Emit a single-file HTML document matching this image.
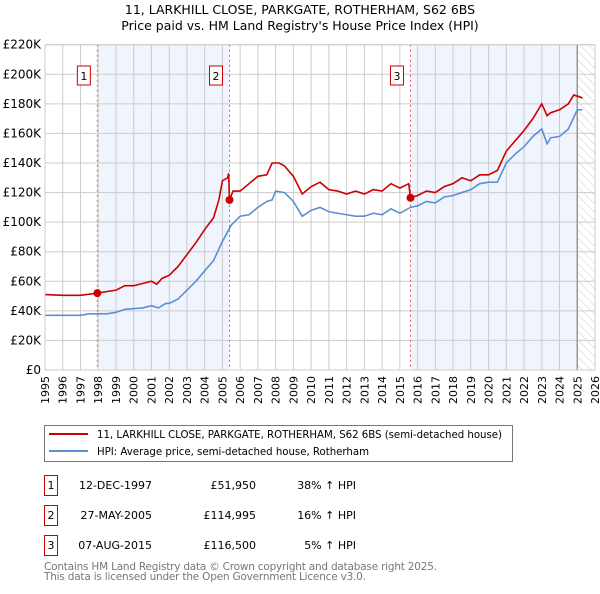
<!DOCTYPE html>
<html><head><meta charset="utf-8"><style>
body{margin:0;background:#fff;font-family:"DejaVu Sans","Liberation Sans",sans-serif;}
svg text{font-family:"DejaVu Sans","Liberation Sans",sans-serif;}
</style></head><body>
<svg id="c" width="600" height="590" xmlns="http://www.w3.org/2000/svg">
<defs><pattern id="hatch" width="6" height="6" patternUnits="userSpaceOnUse" patternTransform="rotate(-45)"><line x1="0" y1="0" x2="0" y2="6" stroke="#ccc" stroke-width="1"/></pattern></defs>
<text x="300" y="14" text-anchor="middle" font-size="12.5">11, LARKHILL CLOSE, PARKGATE, ROTHERHAM, S62 6BS</text>
<text x="300" y="30" text-anchor="middle" font-size="12.5">Price paid vs. HM Land Registry's House Price Index (HPI)</text>
<g id="plot"></g>
<rect x="44.5" y="425.5" width="468" height="36" fill="#fff" stroke="#777"/>
<line x1="49" y1="434" x2="88" y2="434" stroke="#cc0000" stroke-width="2"/>
<text x="97" y="438" font-size="10.2" textLength="405">11, LARKHILL CLOSE, PARKGATE, ROTHERHAM, S62 6BS (semi-detached house)</text>
<line x1="49" y1="451" x2="88" y2="451" stroke="#5b8fd4" stroke-width="2"/>
<text x="97" y="455" font-size="10.2" textLength="272">HPI: Average price, semi-detached house, Rotherham</text>
<g font-size="11">
<rect x="44.5" y="475.5" width="13" height="20" fill="none" stroke="#c00"/><text x="51" y="489" text-anchor="middle">1</text>
<text x="152" y="489" text-anchor="end">12-DEC-1997</text><text x="256" y="489" text-anchor="end">£51,950</text><text x="356" y="489" text-anchor="end">38% ↑ HPI</text>
<rect x="44.5" y="505.5" width="13" height="20" fill="none" stroke="#c00"/><text x="51" y="519" text-anchor="middle">2</text>
<text x="152" y="519" text-anchor="end">27-MAY-2005</text><text x="256" y="519" text-anchor="end">£114,995</text><text x="356" y="519" text-anchor="end">16% ↑ HPI</text>
<rect x="44.5" y="535.5" width="13" height="20" fill="none" stroke="#c00"/><text x="51" y="549" text-anchor="middle">3</text>
<text x="152" y="549" text-anchor="end">07-AUG-2015</text><text x="256" y="549" text-anchor="end">£116,500</text><text x="356" y="549" text-anchor="end">5% ↑ HPI</text>
</g>
<text x="44" y="570" font-size="10.5" fill="#777" textLength="393">Contains HM Land Registry data © Crown copyright and database right 2025.</text>
<text x="44" y="580" font-size="10.5" fill="#777" textLength="322">This data is licensed under the Open Government Licence v3.0.</text>
</svg>
<script>
const yearTicks=[1995,1996,1997,1998,1999,2000,2001,2002,2003,2004,2005,2006,2007,2008,2009,2010,2011,2012,2013,2014,2015,2016,2017,2018,2019,2020,2021,2022,2023,2024,2025,2026];
const priceTicks=[0,20,40,60,80,100,120,140,160,180,200,220];
const hpiX=[1995,1996,1997,1997.5,1998,1998.5,1999,1999.5,2000,2000.5,2001,2001.4,2001.8,2002,2002.5,2003,2003.5,2004,2004.5,2005,2005.5,2006,2006.5,2007,2007.5,2007.8,2008,2008.5,2009,2009.5,2010,2010.5,2011,2011.5,2012,2012.5,2013,2013.5,2014,2014.5,2015,2015.6,2016,2016.5,2017,2017.5,2018,2018.5,2019,2019.5,2020,2020.5,2021,2021.5,2022,2022.5,2023,2023.3,2023.5,2024,2024.5,2025,2025.3];
const hpiY=[37,37,37,38,38,38,39,41,41.5,42,43.5,42,45,45,48,54,60,67,74,87,98,104,105,110,114,115,121,120,114,104,108,110,107,106,105,104,104,106,105,109,106,110,111,114,113,117,118,120,122,126,127,127,140,146,151,158,163,153,157,158,163,176,176];
const ppX=[1995,1996,1997,1997.95,1999,1999.5,2000,2001,2001.3,2001.6,2002,2002.5,2003,2003.5,2004,2004.5,2004.8,2005,2005.3,2005.35,2005.4,2005.6,2006,2006.5,2007,2007.5,2007.8,2008.2,2008.5,2009,2009.5,2010,2010.5,2011,2011.5,2012,2012.5,2013,2013.5,2014,2014.5,2015,2015.5,2015.6,2016,2016.5,2017,2017.5,2018,2018.5,2019,2019.5,2020,2020.5,2021,2021.5,2022,2022.5,2023,2023.3,2023.5,2024,2024.5,2024.8,2025.3];
const ppY=[51,50.5,50.5,52,54,57,57,60,58,62,64,70,78,86,95,103,115,128,130,133,115,121,121,126,131,132,140,140,138,131,119,124,127,122,121,119,121,119,122,121,126,123,126,116.5,118,121,120,124,126,130,128,132,132,135,148,155,162,170,180,172,174,176,180,186,184];
const saleX=[1997.95,2005.4,2015.6];
const saleY=[51.95,114.995,116.5];
const saleLabels=["1","2","3"];
const NS="http://www.w3.org/2000/svg";
const L=45,R=595,T=44.7,B=370;
const sx=v=>L+(v-1995)/(2026-1995)*(R-L);
const sy=v=>B-v/220*(B-T);
const g=document.getElementById('plot');
function mk(t,a,p){const e=document.createElementNS(NS,t);for(const k in a)e.setAttribute(k,a[k]);(p||g).appendChild(e);return e;}
let e;
e=mk('rect',{x:sx(saleX[0]),y:T,width:sx(saleX[1])-sx(saleX[0]),height:B-T,fill:'#f0f4fc'});


e=mk('rect',{x:sx(saleX[2]),y:T,width:sx(2025)-sx(saleX[2]),height:B-T,fill:'#f0f4fc'});


e=mk('rect',{x:sx(2025),y:T,width:sx(2026)-sx(2025),height:B-T,fill:'url(#hatch)'});


yearTicks.forEach(y=>{
 e=mk('line',{x1:sx(y),x2:sx(y),y1:T,y2:B,stroke:'#ccc'});
 
 
 e=mk('text',{x:0,y:0,'font-size':11,'text-anchor':'end',transform:`translate(${sx(y)+4},${B+6}) rotate(-90)`});
 e.textContent=y;
 
 
});
priceTicks.forEach(p=>{
 e=mk('line',{x1:L,x2:R,y1:sy(p),y2:sy(p),stroke:'#ccc'});
 
 
 e=mk('text',{x:L-4,y:sy(p)+4,'font-size':12,'text-anchor':'end'});
 e.textContent=p===0?'£0':'£'+p+'K';
 
 
});
e=mk('line',{x1:sx(2025),x2:sx(2025),y1:T,y2:B,stroke:'#999','stroke-width':1.5});


saleX.forEach((x,i)=>{
 e=mk('line',{x1:sx(x),x2:sx(x),y1:T,y2:B,stroke:'#e06060','stroke-dasharray':'2,3'});
 
 
 e=mk('rect',{x:sx(x)-20,y:66,width:13,height:19,fill:'#fff',stroke:'#c00'});
 
 
 e=mk('text',{x:sx(x)-13.5,y:80,'font-size':11,'text-anchor':'middle'});
 e.textContent=saleLabels[i];
 
 
});
e=mk('polyline',{points:hpiX.map((x,i)=>sx(x)+','+sy(hpiY[i])).join(' '),fill:'none',stroke:'#5b8fd4','stroke-width':1.6});


e=mk('polyline',{points:ppX.map((x,i)=>sx(x)+','+sy(ppY[i])).join(' '),fill:'none',stroke:'#cc0000','stroke-width':1.6});


saleX.forEach((x,i)=>{
 e=mk('circle',{cx:sx(x),cy:sy(saleY[i]),r:4,fill:'#cc0000'});
 
 
});
e=mk('rect',{x:L,y:T,width:R-L,height:B-T,fill:'none',stroke:'#ccc'});


</script>
</body></html>
